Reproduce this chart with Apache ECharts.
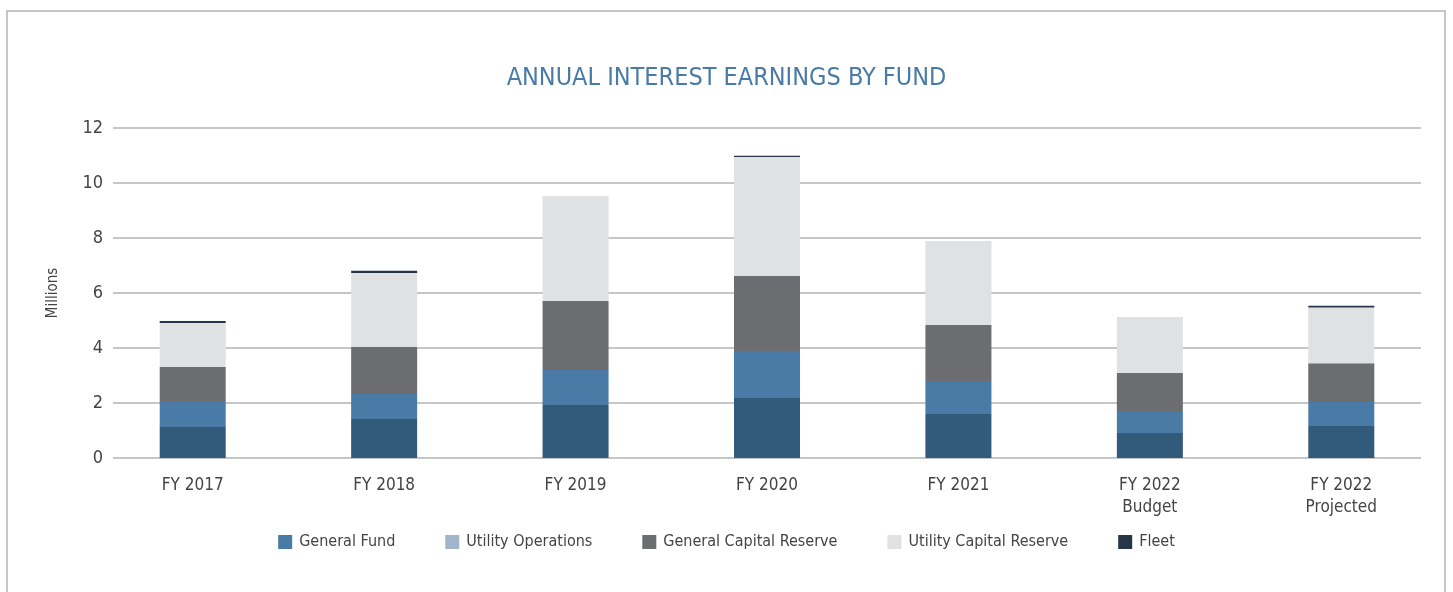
<!DOCTYPE html>
<html>
<head>
<meta charset="utf-8">
<script src="https://cdn.jsdelivr.net/npm/echarts@6/dist/echarts.min.js"></script>
<style>
html, body { margin: 0; padding: 0; background: #fff; }
#chart { width: 1453px; height: 592px; }
</style>
</head>
<body>
<div id="chart"></div>
<script>
var categories = ['FY 2017', 'FY 2018', 'FY 2019', 'FY 2020', 'FY 2021', 'FY 2022\nBudget', 'FY 2022\nProjected'];
var generalFund = [1.13, 1.42, 1.93, 2.18, 1.60, 0.91, 1.16];
var utilityOperations = [0.94, 0.91, 1.27, 1.71, 1.20, 0.80, 0.88];
var generalCapitalReserve = [1.24, 1.71, 2.51, 2.73, 2.04, 1.38, 1.41];
var utilityCapitalReserve = [1.60, 2.69, 3.82, 4.33, 3.05, 2.04, 2.02];
var fleet = [0.07, 0.08, 0, 0.04, 0, 0, 0.07];
var yTicks = [0, 2, 4, 6, 8, 10, 12];

var font = '"Liberation Sans Narrow", "DejaVu Sans Condensed", "Roboto", sans-serif';

var myChart = echarts.init(document.getElementById('chart'));

function bar(name, data, color) {
    return {
        name: name,
        type: 'bar',
        stack: 'total',
        xAxisIndex: 1,
        yAxisIndex: 1,
        barWidth: 66,
        data: data,
        itemStyle: { color: color }
    };
}

var option = {
    backgroundColor: '#fff',
    animation: false,
    title: {
        text: 'ANNUAL INTEREST EARNINGS BY FUND',
        left: 'center',
        top: 61,
        textStyle: {
            fontFamily: font,
            fontSize: 25,
            fontWeight: 'normal',
            color: '#4a7ba6'
        }
    },
    graphic: [{
        type: 'rect',
        shape: { x: 7, y: 11, width: 1438, height: 620 },
        style: { fill: 'none', stroke: '#b4b4b4', lineWidth: 1.5 },
        silent: true
    }],
    legend: {
        bottom: 37,
        left: 'center',
        itemWidth: 14,
        itemHeight: 14,
        itemGap: 50,
        icon: 'rect',
        textStyle: { fontFamily: font, fontSize: 16, color: '#444', padding: [0, 0, 0, 2] },
        // legend swatches in the source differ from the bar fills
        data: [
            { name: 'General Fund', itemStyle: { color: '#4a7ba6' } },
            { name: 'Utility Operations', itemStyle: { color: '#a2b4cb' } },
            { name: 'General Capital Reserve', itemStyle: { color: '#6c6d70' } },
            { name: 'Utility Capital Reserve', itemStyle: { color: '#e0e1e3' } },
            { name: 'Fleet', itemStyle: { color: '#263648' } }
        ]
    },
    grid: [
        { left: 113, right: 32, top: 128, bottom: 134 },
        { left: 97, right: 16, top: 128, bottom: 134 }
    ],
    xAxis: [{
        gridIndex: 0,
        type: 'category',
        data: categories,
        show: false
    }, {
        gridIndex: 1,
        type: 'category',
        data: categories,
        axisLine: { show: false },
        axisTick: { show: false },
        axisLabel: {
            margin: 17,
            fontFamily: font,
            fontSize: 17,
            color: '#444',
            lineHeight: 22
        }
    }],
    yAxis: [{
        gridIndex: 0,
        type: 'value',
        min: yTicks[0],
        max: yTicks[yTicks.length - 1],
        interval: 2,
        name: 'Millions',
        nameLocation: 'middle',
        nameGap: 52,
        nameTextStyle: { fontFamily: font, fontSize: 15, color: '#444' },
        axisLine: { show: false },
        axisTick: { show: false },
        axisLabel: { margin: 10, fontFamily: font, fontSize: 18, color: '#444' },
        splitLine: { lineStyle: { color: '#c6c6c6', width: 2 } }
    }, {
        gridIndex: 1,
        type: 'value',
        min: yTicks[0],
        max: yTicks[yTicks.length - 1],
        interval: 2,
        show: false,
        splitLine: { show: false }
    }],
    series: [
        bar('General Fund', generalFund, '#325a7a'),
        bar('Utility Operations', utilityOperations, '#4a7ba6'),
        bar('General Capital Reserve', generalCapitalReserve, '#6c6d70'),
        bar('Utility Capital Reserve', utilityCapitalReserve, '#e0e1e3'),
        bar('Fleet', fleet, '#263648')
    ]
};

myChart.setOption(option);
</script>
</body>
</html>
